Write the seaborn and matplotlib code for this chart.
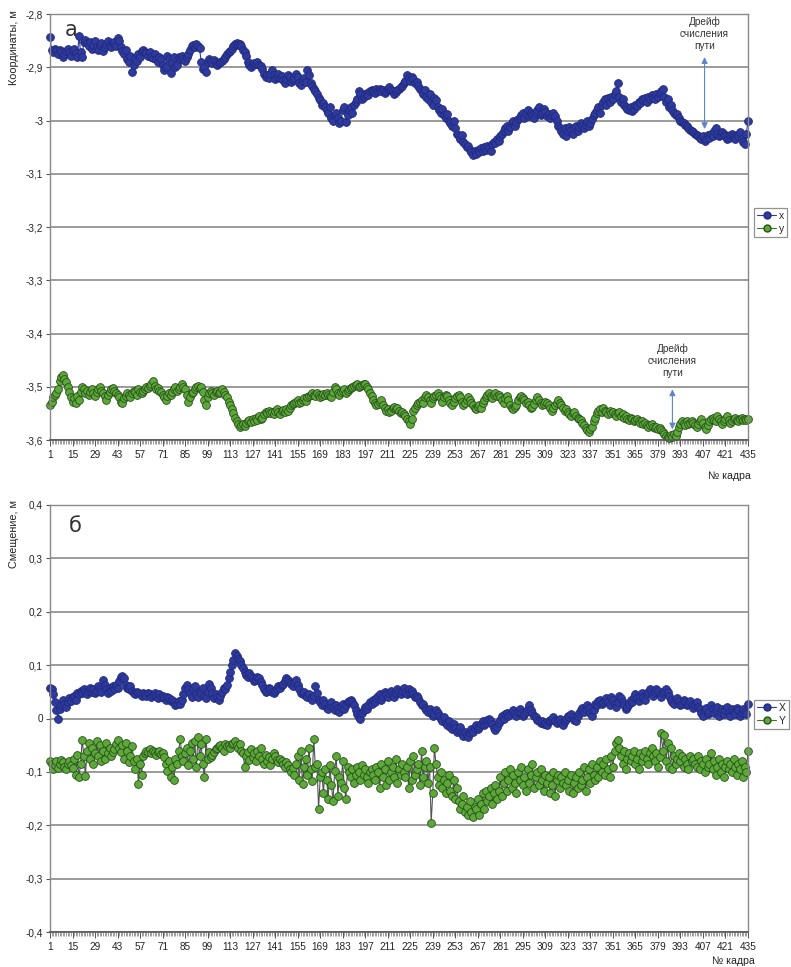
import numpy as np
import pandas as pd
import matplotlib
matplotlib.use("Agg")
import matplotlib.pyplot as plt
import seaborn as sns

# ---------------- data (values in millimetres) ----------------
# panel a: coordinates x (shown as negative, metres = -value/1000)
coord_x_mm = [
    2843, 2868, 2872, 2866, 2870, 2875, 2868, 2872, 2880, 2876, 2870, 2865, 2872, 2878, 2870, 2866, 2874, 2880, 2842, 2872,
    2880, 2852, 2848, 2855, 2860, 2852, 2865, 2858, 2850, 2862, 2868, 2858, 2855, 2870, 2862, 2856, 2850, 2858, 2862, 2855,
    2852, 2860, 2846, 2850, 2862, 2870, 2875, 2868, 2885, 2890, 2878, 2908, 2895, 2882, 2888, 2875, 2880, 2870, 2868, 2872,
    2874, 2878, 2872, 2880, 2882, 2876, 2885, 2890, 2880, 2884, 2895, 2905, 2900, 2878, 2884, 2910, 2890, 2880, 2900, 2895,
    2880, 2884, 2878, 2885, 2888, 2880, 2875, 2868, 2860, 2858, 2862, 2856, 2860, 2864, 2890, 2904, 2900, 2908, 2890, 2885,
    2888, 2892, 2886, 2890, 2895, 2892, 2890, 2888, 2884, 2880, 2876, 2872, 2870, 2866, 2860, 2856, 2855, 2858, 2856, 2860,
    2868, 2872, 2878, 2890, 2895, 2900, 2896, 2892, 2894, 2890, 2895, 2898, 2904, 2912, 2918, 2915, 2920, 2912, 2906, 2915,
    2922, 2918, 2912, 2920, 2916, 2924, 2930, 2922, 2915, 2918, 2928, 2924, 2920, 2912, 2918, 2930, 2934, 2925, 2920, 2928,
    2905, 2915, 2930, 2935, 2940, 2945, 2950, 2958, 2962, 2970, 2968, 2975, 2980, 2985, 2975, 2995, 3000, 2990, 2985, 2995,
    3005, 3000, 2980, 2975, 3002, 2990, 2980, 2975, 2985, 2970, 2965, 2960, 2945, 2950, 2960, 2955, 2950, 2948, 2952, 2945,
    2942, 2945, 2948, 2940, 2944, 2940, 2945, 2942, 2948, 2945, 2940, 2938, 2942, 2945, 2950, 2946, 2942, 2940, 2938, 2935,
    2930, 2925, 2915, 2920, 2925, 2918, 2922, 2930, 2928, 2935, 2940, 2945, 2950, 2942, 2955, 2960, 2950, 2965, 2970, 2958,
    2962, 2975, 2980, 2985, 2978, 2990, 2995, 2988, 3000, 3005, 3010, 3000, 3015, 3025, 3030, 3035, 3028, 3040, 3045, 3050,
    3048, 3055, 3060, 3065, 3058, 3062, 3055, 3060, 3052, 3058, 3050, 3055, 3048, 3052, 3058, 3045, 3040, 3042, 3035, 3038,
    3030, 3025, 3020, 3015, 3010, 3020, 3012, 3005, 3000, 3010, 3002, 2998, 2995, 2990, 2985, 2995, 2988, 2980, 2992, 2985,
    2990, 2995, 2985, 2980, 2975, 2990, 2985, 2978, 2984, 2992, 2988, 2995, 2990, 2985, 2992, 3000, 3010, 3015, 3020, 3025,
    3015, 3030, 3020, 3012, 3018, 3025, 3015, 3010, 3020, 3012, 3005, 3010, 3015, 3008, 3000, 3010, 3005, 2998, 2990, 2985,
    2980, 2975, 2985, 2970, 2965, 2960, 2970, 2958, 2965, 2955, 2960, 2950, 2945, 2930, 2955, 2965, 2960, 2970, 2975, 2978,
    2980, 2975, 2982, 2978, 2970, 2972, 2965, 2968, 2960, 2962, 2958, 2965, 2955, 2960, 2952, 2958, 2960, 2950, 2955, 2948,
    2945, 2940, 2955, 2965, 2960, 2975, 2970, 2980, 2985, 2990, 2988, 2995, 3000, 3002, 3005, 3008, 3010, 3015, 3018, 3020,
    3022, 3025, 3028, 3030, 3032, 3035, 3030, 3038, 3035, 3028, 3032, 3025, 3030, 3020, 3015, 3025, 3030, 3028, 3022, 3025,
    3030, 3035, 3032, 3028, 3025, 3030, 3035, 3028, 3030, 3022, 3032, 3040, 3045, 3025, 3000,
]

# panel a: coordinates y (shown as negative)
coord_y_mm = [
    3534, 3528, 3520, 3515, 3512, 3505, 3490, 3482, 3478, 3485, 3492, 3500, 3510, 3520, 3528, 3522, 3530, 3518, 3525, 3510,
    3500, 3505, 3512, 3508, 3515, 3510, 3505, 3512, 3518, 3510, 3505, 3500, 3508, 3512, 3518, 3525, 3515, 3510, 3505, 3502,
    3508, 3512, 3515, 3520, 3528, 3530, 3522, 3518, 3512, 3515, 3520, 3512, 3508, 3510, 3515, 3505, 3510, 3512, 3508, 3505,
    3500, 3502, 3498, 3495, 3490, 3498, 3505, 3502, 3508, 3510, 3515, 3520, 3525, 3518, 3512, 3515, 3510, 3505, 3500, 3508,
    3505, 3500, 3495, 3500, 3505, 3515, 3528, 3520, 3512, 3510, 3505, 3500, 3498, 3502, 3500, 3510, 3525, 3534, 3520, 3512,
    3508, 3512, 3515, 3510, 3508, 3512, 3510, 3505, 3510, 3515, 3520, 3528, 3535, 3542, 3550, 3558, 3565, 3570, 3575, 3572,
    3570, 3574, 3568, 3565, 3562, 3566, 3560, 3564, 3558, 3562, 3555, 3560, 3558, 3552, 3548, 3550, 3545, 3550, 3548, 3552,
    3545, 3542, 3548, 3552, 3546, 3544, 3548, 3542, 3545, 3540, 3535, 3532, 3530, 3528, 3525, 3530, 3528, 3525, 3522, 3526,
    3520, 3518, 3515, 3512, 3516, 3518, 3512, 3515, 3520, 3518, 3514, 3516, 3512, 3515, 3518, 3520, 3510, 3500, 3505, 3512,
    3515, 3510, 3508, 3505, 3512, 3508, 3505, 3502, 3500, 3498, 3496, 3495, 3500, 3498, 3496, 3494, 3495, 3500, 3505, 3512,
    3518, 3525, 3530, 3535, 3532, 3528, 3525, 3535, 3540, 3545, 3542, 3548, 3545, 3540, 3538, 3542, 3540, 3545, 3550, 3548,
    3552, 3555, 3560, 3565, 3570, 3560, 3545, 3540, 3535, 3530, 3528, 3525, 3530, 3520, 3515, 3520, 3525, 3530, 3522, 3518,
    3515, 3512, 3518, 3522, 3528, 3520, 3515, 3518, 3525, 3530, 3535, 3528, 3522, 3518, 3515, 3520, 3528, 3535, 3530, 3525,
    3520, 3525, 3530, 3535, 3540, 3542, 3538, 3535, 3540, 3530, 3525, 3520, 3515, 3512, 3518, 3522, 3515, 3512, 3518, 3515,
    3520, 3525, 3530, 3522, 3518, 3525, 3535, 3540, 3542, 3538, 3535, 3525, 3520, 3518, 3522, 3525, 3530, 3528, 3535, 3540,
    3538, 3532, 3525, 3520, 3525, 3530, 3535, 3532, 3528, 3530, 3535, 3540, 3545, 3540, 3535, 3530, 3525, 3530, 3535, 3540,
    3545, 3542, 3548, 3552, 3555, 3550, 3548, 3555, 3558, 3560, 3562, 3568, 3572, 3578, 3582, 3585, 3580, 3575, 3565, 3558,
    3550, 3545, 3542, 3548, 3540, 3545, 3548, 3552, 3545, 3550, 3548, 3552, 3555, 3550, 3548, 3555, 3552, 3558, 3555, 3560,
    3562, 3558, 3560, 3565, 3562, 3560, 3565, 3568, 3565, 3570, 3568, 3572, 3575, 3572, 3570, 3575, 3578, 3575, 3580, 3578,
    3582, 3585, 3588, 3592, 3595, 3597, 3590, 3595, 3588, 3592, 3585, 3575, 3570, 3565, 3568, 3572, 3565, 3570, 3568, 3565,
    3568, 3572, 3575, 3570, 3565, 3560, 3568, 3575, 3580, 3572, 3565, 3560, 3558, 3562, 3565, 3555, 3560, 3565, 3570, 3565,
    3560, 3555, 3562, 3568, 3565, 3560, 3558, 3562, 3565, 3560, 3558, 3562, 3560, 3562, 3560,
]

# panel б: displacement X
shift_x_mm = [
    58, 55, 45, 30, 15, 0, 18, 25, 35, 28, 22, 30, 38, 32, 40, 42, 35, 48, 45, 52,
    48, 55, 50, 45, 52, 58, 50, 55, 48, 52, 60, 55, 50, 72, 62, 55, 48, 58, 52, 60,
    55, 62, 58, 70, 78, 80, 75, 62, 58, 55, 60, 52, 48, 45, 50, 48, 45, 42, 48, 45,
    42, 48, 45, 40, 44, 48, 42, 38, 45, 40, 42, 38, 35, 40, 38, 32, 35, 30, 25, 28,
    32, 28, 35, 45, 58, 62, 55, 48, 40, 55, 60, 45, 40, 52, 48, 58, 42, 38, 50, 65,
    58, 48, 38, 45, 40, 35, 42, 50, 58, 55, 62, 75, 88, 100, 110, 122, 118, 112, 108, 100,
    95, 88, 82, 78, 85, 80, 75, 70, 72, 78, 75, 68, 62, 55, 50, 52, 58, 55, 50, 48,
    52, 55, 60, 58, 62, 65, 70, 75, 72, 68, 65, 60, 68, 72, 62, 55, 48, 45, 50, 42,
    40, 45, 38, 35, 42, 60, 48, 35, 30, 25, 35, 28, 20, 18, 25, 30, 22, 15, 25, 20,
    12, 22, 28, 18, 25, 30, 32, 35, 30, 25, 15, 8, 2, 0, 10, 15, 22, 18, 25, 30,
    28, 35, 30, 38, 42, 45, 35, 42, 50, 45, 40, 48, 52, 45, 40, 48, 55, 50, 45, 52,
    58, 50, 45, 55, 48, 52, 45, 40, 42, 38, 30, 25, 28, 20, 15, 12, 18, 10, 5, 8,
    15, 10, 5, 0, -5, 2, -8, -12, -5, -15, -20, -10, -18, -25, -22, -15, -28, -32, -25, -30,
    -35, -28, -20, -25, -18, -12, -20, -15, -10, -5, -12, -8, -2, 0, -5, -10, -18, -22, -15, -8,
    -2, 5, 0, 8, 10, 5, 8, 12, 15, 10, 5, 12, 18, 10, 5, 8, 12, 18, 25, 15,
    10, 5, 2, -2, -5, -8, -5, -10, -8, -12, -5, -2, 0, 3, -5, -8, -3, 0, -8, -12,
    -5, 0, 5, 2, 8, 3, -2, -5, 5, 10, 15, 20, 12, 18, 25, 20, 10, 5, 15, 28,
    25, 32, 35, 28, 30, 35, 38, 30, 25, 40, 35, 28, 22, 30, 42, 38, 30, 25, 18, 22,
    28, 35, 30, 40, 45, 38, 32, 42, 48, 40, 35, 45, 50, 55, 48, 42, 50, 55, 52, 45,
    40, 48, 52, 55, 50, 42, 35, 30, 28, 35, 38, 32, 25, 28, 35, 30, 25, 28, 32, 25,
    20, 25, 30, 22, 18, 10, 5, 15, 20, 8, 12, 25, 18, 10, 15, 22, 5, 12, 18, 8,
    15, 22, 10, 5, 18, 12, 8, 20, 15, 5, 10, 18, 12, 8, 28,
]

# panel б: displacement Y
shift_y_mm = [
    -80, -85, -95, -88, -80, -92, -85, -78, -82, -90, -95, -85, -80, -88, -92, -75, -105, -68, -110, -85,
    -40, -70, -108, -60, -45, -75, -55, -85, -65, -42, -70, -50, -80, -60, -75, -45, -65, -55, -70, -62,
    -58, -48, -40, -55, -62, -50, -75, -45, -60, -82, -70, -52, -80, -95, -75, -122, -85, -105, -70, -65,
    -60, -62, -58, -65, -60, -62, -68, -62, -60, -66, -64, -72, -85, -98, -80, -110, -90, -115, -75, -85,
    -60, -38, -70, -80, -65, -55, -88, -60, -45, -75, -42, -90, -35, -70, -48, -85, -110, -38, -75, -62,
    -72, -68, -62, -58, -55, -52, -50, -55, -60, -48, -52, -50, -55, -48, -45, -42, -50, -55, -48, -60,
    -65, -90, -70, -62, -78, -58, -72, -65, -80, -60, -70, -55, -75, -85, -68, -80, -72, -88, -75, -65,
    -70, -78, -82, -75, -80, -85, -90, -82, -88, -95, -100, -92, -105, -85, -70, -115, -60, -122, -90, -75,
    -105, -55, -95, -118, -38, -90, -85, -170, -110, -100, -140, -95, -115, -150, -88, -125, -155, -98, -70, -145,
    -110, -120, -80, -130, -150, -90, -100, -110, -95, -120, -105, -90, -100, -115, -88, -105, -95, -110, -120, -100,
    -95, -105, -115, -90, -100, -130, -85, -110, -95, -125, -80, -115, -100, -90, -110, -75, -120, -95, -105, -85,
    -100, -110, -90, -130, -80, -115, -70, -105, -95, -85, -125, -60, -110, -90, -80, -120, -90, -195, -140, -55,
    -85, -110, -125, -100, -130, -115, -140, -120, -105, -135, -145, -115, -150, -130, -155, -170, -160, -145, -175, -165,
    -180, -155, -175, -185, -165, -170, -150, -180, -160, -140, -170, -135, -155, -145, -130, -160, -140, -125, -150, -135,
    -110, -145, -120, -100, -135, -115, -95, -130, -105, -120, -140, -100, -115, -90, -125, -110, -135, -95, -120, -105,
    -85, -130, -110, -100, -125, -95, -115, -135, -105, -120, -110, -140, -125, -100, -145, -115, -105, -130, -110, -120,
    -100, -125, -115, -135, -105, -140, -120, -110, -130, -100, -125, -115, -90, -135, -110, -95, -120, -85, -105, -115,
    -90, -110, -80, -100, -85, -105, -75, -95, -110, -70, -90, -60, -45, -40, -55, -70, -85, -60, -95, -75,
    -65, -80, -70, -60, -85, -75, -95, -65, -80, -70, -60, -75, -85, -65, -55, -70, -80, -65, -90, -72,
    -28, -60, -30, -80, -45, -90, -55, -95, -70, -85, -75, -65, -80, -70, -90, -75, -85, -95, -70, -80,
    -75, -85, -90, -70, -95, -80, -85, -100, -75, -90, -85, -65, -95, -80, -105, -90, -75, -100, -85, -110,
    -90, -80, -95, -85, -100, -75, -90, -105, -85, -95, -80, -110, -90, -100, -60,
]

tick_frames = list(range(1, 436, 14))
yticks_a = [-2.8, -2.9, -3.0, -3.1, -3.2, -3.3, -3.4, -3.5, -3.6]
ylabels_a = ["-2,8", "-2,9", "-3", "-3,1", "-3,2", "-3,3", "-3,4", "-3,5", "-3,6"]
yticks_b = [0.4, 0.3, 0.2, 0.1, 0.0, -0.1, -0.2, -0.3, -0.4]
ylabels_b = ["0,4", "0,3", "0,2", "0,1", "0", "-0,1", "-0,2", "-0,3", "-0,4"]

# ---------------- styling ----------------
sns.set_theme(style="white")
plt.rcParams["font.family"] = ["Liberation Sans", "DejaVu Sans"]

W, H = 791, 967
fig = plt.figure(figsize=(W / 100, H / 100), dpi=100)

def fx(px):
    return px / W

def fy(py):
    return 1 - py / H

ax_a = fig.add_axes([fx(50), fy(440), fx(748) - fx(50), fy(14) - fy(440)])
ax_b = fig.add_axes([fx(50), fy(932), fx(748) - fx(50), fy(505) - fy(932)])

BLUE_FACE = "#2e3a9c"
BLUE_EDGE = "#202a80"
BLUE_LINE = "#2e3a9c"
GREEN_FACE = "#5ea83a"
GREEN_EDGE = "#24501a"
GREEN_LINE_A = "#3d7428"
GREEN_LINE_B = "#555555"
MS = 5.6


def draw_series(ax, values, face, edge, line, label):
    n = len(values)
    df = pd.DataFrame({"frame": np.arange(1, n + 1), "v": values})
    sns.lineplot(data=df, x="frame", y="v", ax=ax, color=line, lw=0.8,
                 marker="o", markersize=MS, markerfacecolor=face,
                 markeredgecolor=edge, markeredgewidth=0.6,
                 errorbar=None, label=label, clip_on=False, legend=False)


def style_axes(ax, yt, yl, ylim):
    ax.set_xlim(1, 435)
    ax.set_ylim(*ylim)
    ax.set_yticks(yt)
    ax.set_yticklabels(yl)
    ax.set_xticks(tick_frames)
    ax.set_xticklabels([str(t) for t in tick_frames])
    ax.set_xticks(np.arange(1, 436, 1), minor=True)
    ax.tick_params(axis="x", which="both", bottom=True)
    ax.tick_params(axis="y", which="major", left=True)
    ax.tick_params(axis="x", which="major", length=4, width=0.7, color="#555555",
                   labelsize=7.2, pad=3, labelcolor="#222222")
    ax.tick_params(axis="x", which="minor", length=3, width=0.5, color="#777777")
    ax.tick_params(axis="y", which="major", length=3, width=0.8, color="#555555",
                   labelsize=7.2, pad=2, labelcolor="#222222")
    ax.grid(True, axis="y", color="#8a8a8a", lw=1.2)
    ax.grid(False, axis="x")
    ax.set_axisbelow(True)
    for s in ["left", "right", "top"]:
        ax.spines[s].set_visible(True)
        ax.spines[s].set_color("#8a8a8a")
        ax.spines[s].set_linewidth(1.0)
    ax.spines["bottom"].set_color("#555555")
    ax.spines["bottom"].set_linewidth(1.2)
    ax.set_xlabel("")
    ax.set_ylabel("")


# panel a
draw_series(ax_a, -np.array(coord_x_mm) / 1000.0, BLUE_FACE, BLUE_EDGE, BLUE_LINE, "x")
draw_series(ax_a, -np.array(coord_y_mm) / 1000.0, GREEN_FACE, GREEN_EDGE, GREEN_LINE_A, "y")
style_axes(ax_a, yticks_a, ylabels_a, (-3.6, -2.8))

# panel б
draw_series(ax_b, np.array(shift_x_mm) / 1000.0, BLUE_FACE, BLUE_EDGE, BLUE_LINE, "X")
draw_series(ax_b, np.array(shift_y_mm) / 1000.0, GREEN_FACE, GREEN_EDGE, GREEN_LINE_B, "Y")
style_axes(ax_b, yticks_b, ylabels_b, (-0.4, 0.4))

# panel letters
ax_a.text(0.021, 0.985, "а", transform=ax_a.transAxes, fontsize=15, va="top", ha="left",
          color="#333333", family=["DejaVu Sans"])
ax_b.text(0.027, 0.975, "б", transform=ax_b.transAxes, fontsize=15, va="top", ha="left",
          color="#333333", family=["DejaVu Sans"])

# y labels and x labels
fig.text(fx(14), fy(10), "Координаты, м", rotation=90, va="top", ha="center", fontsize=7.8, color="#222222")
fig.text(fx(14), fy(500), "Смещение, м", rotation=90, va="top", ha="center", fontsize=7.8, color="#222222")
fig.text(fx(751), fy(476), "№ кадра", va="center", ha="right", fontsize=7.6, color="#222222")
fig.text(fx(755), fy(961), "№ кадра", va="center", ha="right", fontsize=7.6, color="#222222")

# annotations (drift)
arrow_kw = dict(arrowstyle="<|-|>", color="#5b86c9", lw=0.8, mutation_scale=9, shrinkA=0, shrinkB=0)
ax_a.annotate("", xy=(408, -3.016), xytext=(408, -2.881), arrowprops=arrow_kw)
ax_a.text(408, -2.804, "Дрейф\nсчисления\nпути", ha="center", va="top", fontsize=7.2,
          color="#333333", linespacing=1.25)
ax_a.annotate("", xy=(388, -3.58), xytext=(388, -3.505), arrowprops=arrow_kw)
ax_a.text(388, -3.418, "Дрейф\nсчисления\nпути", ha="center", va="top", fontsize=7.2,
          color="#333333", linespacing=1.25)

# legends
def add_legend(labels, py):
    h1 = plt.Line2D([], [], color=BLUE_LINE, lw=0.8, marker="o", markersize=MS - 0.6,
                    markerfacecolor=BLUE_FACE, markeredgecolor=BLUE_EDGE)
    h2 = plt.Line2D([], [], color=GREEN_LINE_A, lw=0.8, marker="o", markersize=MS - 0.6,
                    markerfacecolor=GREEN_FACE, markeredgecolor=GREEN_EDGE)
    leg = fig.legend([h1, h2], labels, loc="upper left",
                     bbox_to_anchor=(fx(754), fy(py)), frameon=True, fontsize=7.5,
                     handlelength=1.8, handletextpad=0.3, borderpad=0.3,
                     labelspacing=0.25, fancybox=False, borderaxespad=0)
    leg.get_frame().set_edgecolor("#777777")
    leg.get_frame().set_linewidth(0.9)

add_legend(["x", "y"], 208)
add_legend(["X", "Y"], 700)

fig.savefig("out.png", dpi=100, facecolor="white")
